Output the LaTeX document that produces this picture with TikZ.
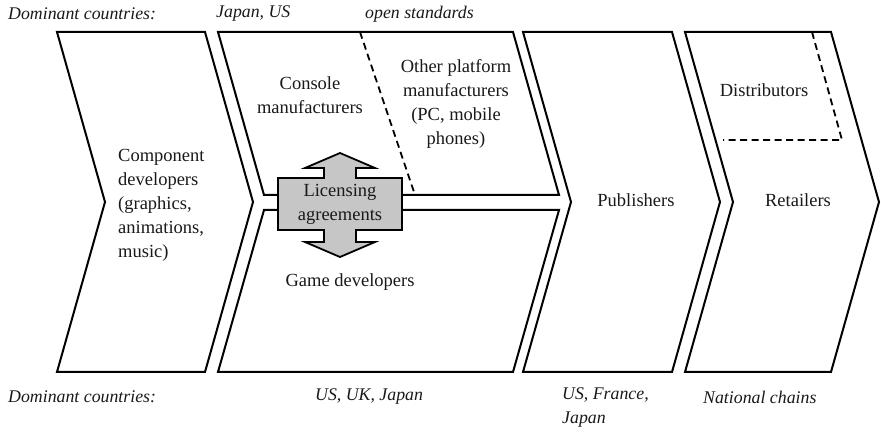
\documentclass[tikz,border=0pt]{standalone}
\usepackage{fontspec}
\setmainfont{Liberation Serif}
\begin{document}
\begin{tikzpicture}[x=1pt,y=-1pt,
  chev/.style={draw=black,line width=2pt,line join=miter},
  dline/.style={draw=black,line width=1.8pt,dash pattern=on 7pt off 4.5pt},
  licshape/.style={draw=black,line width=1.8pt,fill=gray!45,line join=miter},
  lbl/.style={font=\fontsize{18.5}{24}\selectfont,text=black!90,inner sep=0pt,align=center},
  ital/.style={font=\fontsize{17.8}{24}\selectfont\itshape,text=black!90,inner sep=0pt,anchor=west,align=left}]
\useasboundingbox (0,0) rectangle (881,435);
% chevrons
\draw[chev] (57,32) -- (205,32) -- (253,202) -- (205,372) -- (57,372) -- (105,202) -- cycle;
\draw[chev] (218,32) -- (513,32) -- (559,195) -- (264,195) -- cycle;
\draw[chev] (264,210) -- (559,210) -- (513,372) -- (218,372) -- cycle;
\draw[chev] (523,32) -- (672,32) -- (720,202) -- (672,372) -- (523,372) -- (571,202) -- cycle;
\draw[chev] (685,32) -- (831,32) -- (879,202) -- (831,372) -- (685,372) -- (733,202) -- cycle;
% dashed separators
\draw[dline] (360,32) -- (415,195);
\draw[dline] (812,32) -- (842,140) -- (723,140);
% licensing double arrow
\draw[licshape] (278,178) -- (324,178) -- (324,168) -- (305,168) -- (340,153) -- (375,168) -- (356,168) -- (356,178) -- (402,178) -- (402,230) -- (356,230) -- (356,242) -- (375,242) -- (340,257) -- (305,242) -- (324,242) -- (324,230) -- (278,230) -- cycle;
\node[lbl] (lic) at (340,204) {Licensing\\agreements};
% texts
\node[lbl,align=left,anchor=west] (comp) at (118,205) {Component\\developers\\(graphics,\\animations,\\music)};
\node[lbl] (cons) at (310,95) {Console\\manufacturers};
\node[lbl] (other) at (456,104) {Other platform\\manufacturers\\(PC, mobile\\phones)};
\node[lbl] (game) at (350,282) {Game developers};
\node[lbl] (pub) at (636,200) {Publishers};
\node[lbl] (ret) at (798,200) {Retailers};
\node[lbl] (dist) at (764,90) {Distributors};
\node[ital] (dc1) at (8,14) {Dominant countries:};
\node[ital] (jus) at (216,14) {Japan, US};
\node[ital] (open) at (365,14) {open standards};
\node[ital] (dc2) at (8,397) {Dominant countries:};
\node[ital] (uuj) at (315,397) {US, UK, Japan};
\node[ital] (ufj) at (562,408) {US, France,\\Japan};
\node[ital] (nat) at (703,397) {National chains};
\end{tikzpicture}
\end{document}
